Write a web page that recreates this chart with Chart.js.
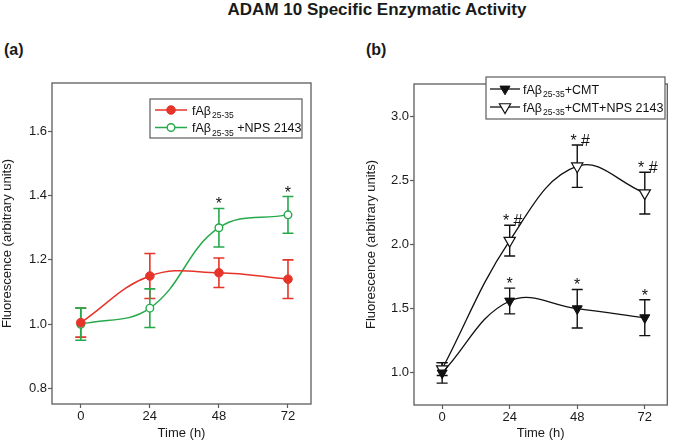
<!DOCTYPE html>
<html>
<head>
<meta charset="utf-8">
<script src="https://cdn.jsdelivr.net/npm/chart.js@4/dist/chart.umd.min.js"></script>
<style>
  html, body { margin: 0; padding: 0; background: #fff; }
  #page { position: relative; width: 675px; height: 444px; overflow: hidden; font-family: 'Liberation Sans', Arial, sans-serif; color: #1a1a1a; }
  #title { position: absolute; left: 377px; top: 0; transform: translateX(-50%); font-weight: bold; font-size: 17px; line-height: 20px; white-space: nowrap; }
  .panel-tag { position: absolute; top: 41px; font-weight: bold; font-size: 16px; line-height: 18px; }
  canvas { position: absolute; top: 0; }
</style>
</head>
<body>
<div id="page">
  <div id="title">ADAM 10 Specific Enzymatic Activity</div>
  <div class="panel-tag" style="left:4px">(a)</div>
  <div class="panel-tag" style="left:366px">(b)</div>
  <canvas id="chart-a" width="337" height="444" style="left:0"></canvas>
  <canvas id="chart-b" width="311" height="444" style="left:364px"></canvas>
</div>
<script>
// --- Datos ---
const timePoints = [0, 24, 48, 72];
const xTicks = [0, 24, 48, 72];

// Panel (a)
const abetaMean = [1.005, 1.15, 1.16, 1.14];
const abetaErr = [0.045, 0.07, 0.046, 0.06];
const abetaMarks = ['', '', '', ''];
const abetaNpsMean = [1.0, 1.05, 1.30, 1.34];
const abetaNpsErr = [0.05, 0.06, 0.06, 0.057];
const abetaNpsMarks = ['', '', '*', '*'];
const yTicksA = [0.8, 1.0, 1.2, 1.4, 1.6];

// Panel (b)
const cmtMean = [1.0, 1.56, 1.50, 1.43];
const cmtErr = [0.08, 0.10, 0.15, 0.14];
const cmtMarks = ['', '*', '*', '*'];
const cmtNpsMean = [1.03, 2.03, 2.61, 2.40];
const cmtNpsErr = [0.05, 0.12, 0.165, 0.163];
const cmtNpsMarks = ['', '* #', '* #', '* #'];
const yTicksB = [1.0, 1.5, 2.0, 2.5, 3.0];

// Textos de la leyenda (parte normal, subíndice, resto)
const legendA = [['fAβ', '25-35', ''], ['fAβ', '25-35', ' +NPS 2143']];
const legendB = [['fAβ', '25-35', '+CMT'], ['fAβ', '25-35', '+CMT+NPS 2143']];

const RED = '#e6342a';
const GREEN = '#25a94b';
const BLACK = '#111';
const FRAME = '#5c5c5c';
const FONT = "'Liberation Sans', Arial, sans-serif";

const toPoints = (ys) => timePoints.map((t, i) => ({ x: t, y: ys[i] }));

/**
 * Marco gris alrededor del área del gráfico.
 */
const framePlugin = {
    id: 'frame',
    beforeDatasetsDraw(chart) {
        const { ctx, chartArea: a } = chart;
        ctx.save();
        ctx.strokeStyle = FRAME;
        ctx.lineWidth = 1.3;
        ctx.strokeRect(a.left, a.top, a.right - a.left, a.bottom - a.top);
        ctx.restore();
    }
};

/**
 * Barras de error verticales con sus topes.
 */
const errorBarsPlugin = {
    id: 'errorBars',
    beforeDatasetsDraw(chart) {
        const { ctx, scales: { x, y } } = chart;
        ctx.save();
        chart.data.datasets.forEach(ds => {
            ctx.strokeStyle = ds.borderColor;
            ctx.lineWidth = ds.errorWidth;
            ds.data.forEach((p, i) => {
                const e = ds.errors[i];
                const px = x.getPixelForValue(p.x);
                const yTop = y.getPixelForValue(p.y + e);
                const yBot = y.getPixelForValue(p.y - e);
                ctx.beginPath();
                ctx.moveTo(px, yTop); ctx.lineTo(px, yBot);
                ctx.moveTo(px - 5.5, yTop); ctx.lineTo(px + 5.5, yTop);
                ctx.moveTo(px - 5.5, yBot); ctx.lineTo(px + 5.5, yBot);
                ctx.stroke();
            });
        });
        ctx.restore();
    }
};

/**
 * Marcas de significancia (* y #) sobre las barras de error.
 */
const marksPlugin = {
    id: 'marks',
    afterDatasetsDraw(chart) {
        const { ctx, scales: { x, y } } = chart;
        ctx.save();
        ctx.fillStyle = '#111';
        ctx.font = '16px ' + FONT;
        ctx.textAlign = 'center';
        ctx.textBaseline = 'alphabetic';
        chart.data.datasets.forEach(ds => {
            ds.data.forEach((p, i) => {
                const m = ds.marks[i];
                if (!m) return;
                const px = x.getPixelForValue(p.x) + (m.length > 1 ? 3 : 0);
                const yTop = y.getPixelForValue(p.y + ds.errors[i]);
                ctx.fillText(m, px, yTop + 1);
            });
        });
        ctx.restore();
    }
};

/**
 * Leyenda propia con subíndices.
 */
const legendPlugin = {
    id: 'legendBox',
    afterDraw(chart, args, opts) {
        const ctx = chart.ctx;
        ctx.save();
        ctx.fillStyle = '#fff';
        ctx.fillRect(opts.x, opts.y, opts.w, opts.h);
        ctx.strokeStyle = FRAME;
        ctx.lineWidth = 1.2;
        ctx.strokeRect(opts.x, opts.y, opts.w, opts.h);

        chart.data.datasets.forEach((ds, i) => {
            const rowY = opts.y + opts.firstRow + i * opts.rowGap;
            ctx.strokeStyle = ds.borderColor;
            ctx.lineWidth = ds.borderWidth;
            ctx.beginPath();
            ctx.moveTo(opts.x + opts.lineFrom, rowY);
            ctx.lineTo(opts.x + opts.lineTo, rowY);
            ctx.stroke();

            ctx.fillStyle = ds.pointBackgroundColor;
            ctx.strokeStyle = ds.pointBorderColor;
            ctx.lineWidth = ds.pointBorderWidth;
            Chart.helpers.drawPoint(ctx, {
                pointStyle: ds.pointStyle,
                rotation: ds.pointRotation || 0,
                radius: ds.pointRadius,
                borderWidth: ds.pointBorderWidth
            }, opts.x + (opts.lineFrom + opts.lineTo) / 2, rowY);

            const [main, sub, tail] = opts.labels[i];
            let tx = opts.x + opts.textX;
            ctx.fillStyle = '#111';
            ctx.textAlign = 'left';
            ctx.textBaseline = 'alphabetic';
            ctx.font = '12.5px ' + FONT;
            ctx.fillText(main, tx, rowY + 4.5);
            tx += ctx.measureText(main).width + 1;
            ctx.font = '8.5px ' + FONT;
            ctx.fillText(sub, tx, rowY + 8);
            tx += ctx.measureText(sub).width;
            ctx.font = '12.5px ' + FONT;
            ctx.fillText(tail, tx, rowY + 4.5);
        });
        ctx.restore();
    }
};

function buildOptions(yMin, yMax, yTicks, yWidth, xHeight, padding, legendOpts) {
    const tickFont = { family: FONT, size: 13 };
    return {
        responsive: false,
        animation: false,
        devicePixelRatio: 1,
        layout: { padding: padding },
        plugins: {
            legend: { display: false },
            tooltip: { enabled: false },
            legendBox: legendOpts
        },
        scales: {
            x: {
                type: 'linear',
                min: -10,
                max: 80,
                afterBuildTicks: (scale) => { scale.ticks = xTicks.map(v => ({ value: v })); },
                afterFit: (scale) => { scale.height = xHeight; },
                grid: { drawOnChartArea: false, color: FRAME, tickLength: 4, tickWidth: 1.2 },
                border: { display: false },
                ticks: { font: tickFont, color: '#1a1a1a', padding: 1, maxRotation: 0 },
                title: { display: true, text: 'Time (h)', font: tickFont, color: '#1a1a1a', padding: { top: 0, bottom: 3 } }
            },
            y: {
                type: 'linear',
                min: yMin,
                max: yMax,
                afterBuildTicks: (scale) => { scale.ticks = yTicks.map(v => ({ value: v })); },
                afterFit: (scale) => { scale.width = yWidth; },
                grid: { drawOnChartArea: false, color: FRAME, tickLength: 4, tickWidth: 1.2 },
                border: { display: false },
                ticks: { font: tickFont, color: '#1a1a1a', padding: 1, callback: (v) => v.toFixed(1) },
                title: { display: true, text: 'Fluorescence (arbitrary units)', font: tickFont, color: '#1a1a1a', padding: { top: 0, bottom: 0 } }
            }
        }
    };
}

const plugins = [framePlugin, errorBarsPlugin, marksPlugin, legendPlugin];

// --- Panel (a) ---
new Chart(document.getElementById('chart-a'), {
    type: 'line',
    data: {
        datasets: [{
            data: toPoints(abetaMean),
            errors: abetaErr,
            marks: abetaMarks,
            borderColor: RED,
            borderWidth: 1.5,
            errorWidth: 1.6,
            tension: 0.4,
            pointStyle: 'circle',
            pointRadius: 4.3,
            pointBackgroundColor: RED,
            pointBorderColor: RED,
            pointBorderWidth: 1
        }, {
            data: toPoints(abetaNpsMean),
            errors: abetaNpsErr,
            marks: abetaNpsMarks,
            borderColor: GREEN,
            borderWidth: 1.5,
            errorWidth: 1.6,
            tension: 0.4,
            pointStyle: 'circle',
            pointRadius: 3.8,
            pointBackgroundColor: '#fff',
            pointBorderColor: GREEN,
            pointBorderWidth: 1.4
        }]
    },
    options: buildOptions(0.752, 1.75, yTicksA, 52, 40, { left: 0, right: 26, top: 83, bottom: 0 }, {
        x: 150, y: 99, w: 152, h: 39, firstRow: 11, rowGap: 17.5,
        lineFrom: 5, lineTo: 37, textX: 42, labels: legendA
    }),
    plugins: plugins
});

// --- Panel (b) ---
new Chart(document.getElementById('chart-b'), {
    type: 'line',
    data: {
        datasets: [{
            data: toPoints(cmtMean),
            errors: cmtErr,
            marks: cmtMarks,
            borderColor: BLACK,
            borderWidth: 1.3,
            errorWidth: 1.4,
            tension: 0.4,
            pointStyle: 'triangle',
            pointRotation: 180,
            pointRadius: 5.8,
            pointBackgroundColor: BLACK,
            pointBorderColor: BLACK,
            pointBorderWidth: 1
        }, {
            data: toPoints(cmtNpsMean),
            errors: cmtNpsErr,
            marks: cmtNpsMarks,
            borderColor: BLACK,
            borderWidth: 1.3,
            errorWidth: 1.4,
            tension: 0.4,
            pointStyle: 'triangle',
            pointRotation: 180,
            pointRadius: 6.5,
            pointBackgroundColor: '#fff',
            pointBorderColor: BLACK,
            pointBorderWidth: 1.2
        }]
    },
    options: buildOptions(0.75, 3.25, yTicksB, 50, 39, { left: 0, right: 1.5, top: 84, bottom: 0 }, {
        x: 122, y: 77, w: 179, h: 42, firstRow: 12, rowGap: 18,
        lineFrom: 4, lineTo: 34, textX: 37, labels: legendB
    }),
    plugins: plugins
});
</script>
</body>
</html>
